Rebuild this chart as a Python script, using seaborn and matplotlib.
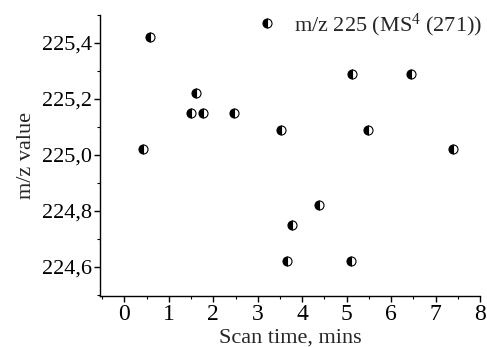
import matplotlib
matplotlib.use("Agg")
import matplotlib.pyplot as plt
import seaborn as sns
import pandas as pd
from matplotlib.ticker import MultipleLocator, FuncFormatter

scan_time = [0.41, 0.58, 1.51, 1.62, 1.76, 2.46, 3.53, 3.65, 3.78, 4.38, 5.10, 5.12, 5.48, 6.45, 7.40]
mz_value = [225.02, 225.42, 225.15, 225.22, 225.15, 225.15, 225.09, 224.62, 224.75, 224.82, 224.62, 225.29, 225.09, 225.29, 225.02]
series_label = r"m/z 225 (MS$^{\mathrm{4}}$ (271))"
x_ticks = [0, 1, 2, 3, 4, 5, 6, 7, 8]
y_ticks = [224.6, 224.8, 225.0, 225.2, 225.4]

sns.set_style("ticks")
plt.rcParams['font.family'] = ['Liberation Serif', 'DejaVu Serif']
plt.rcParams['mathtext.fontset'] = 'custom'
plt.rcParams['mathtext.rm'] = 'Liberation Serif'
plt.rcParams['mathtext.it'] = 'Liberation Serif:italic'
plt.rcParams['mathtext.bf'] = 'Liberation Serif:bold'

df = pd.DataFrame({"t": scan_time, "mz": mz_value})

fig = plt.figure(figsize=(4.87, 3.47), dpi=100)
ax = fig.add_axes([0.205, 0.147, 0.781, 0.81])

sns.lineplot(data=df, x="t", y="mz", ax=ax, estimator=None, sort=False,
             linestyle='', marker='o', markersize=6.5, fillstyle='left',
             color='black', markerfacecoloralt='white', markeredgecolor='black',
             markeredgewidth=0.8, label=series_label)

ax.set_xlim(-0.55, 8.0)
ax.set_ylim(224.495, 225.5)
ax.set_xticks(x_ticks)
ax.set_yticks(y_ticks)
ax.xaxis.set_minor_locator(MultipleLocator(0.5))
ax.yaxis.set_minor_locator(MultipleLocator(0.1))
ax.yaxis.set_major_formatter(FuncFormatter(lambda v, p: f"{v:.1f}".replace('.', ',')))
ax.tick_params(axis='both', which='major', direction='out', length=4, width=1, colors='black', pad=2)
ax.tick_params(axis='x', which='major', labelsize=17)
ax.tick_params(axis='y', which='major', labelsize=16)
ax.tick_params(axis='both', which='minor', direction='out', length=2.5, width=0.8, colors='black')
for s in ['top', 'right']:
    ax.spines[s].set_visible(False)
for s in ['left', 'bottom']:
    ax.spines[s].set_linewidth(1.0)
    ax.spines[s].set_color('black')

ax.set_xlabel("Scan time, mins", fontsize=16, labelpad=2)
ax.set_ylabel("m/z value", fontsize=16, labelpad=4)

ax.legend(loc='upper right', frameon=False, fontsize=16, handlelength=1.0,
          handletextpad=0.73, borderaxespad=0.0, numpoints=1,
          bbox_to_anchor=(1.008, 0.992), bbox_transform=fig.transFigure)

fig.savefig("out.png", dpi=100)
